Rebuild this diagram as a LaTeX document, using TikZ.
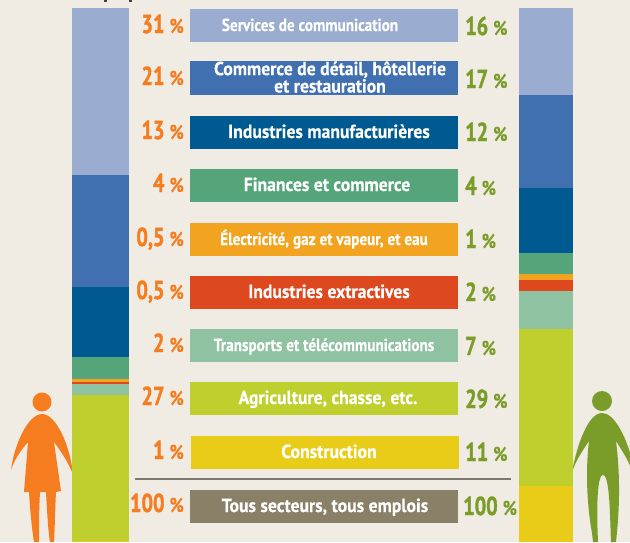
\documentclass[tikz,border=0pt]{standalone}
\usepackage{fontspec}
\setmainfont{PT Sans}
\newfontfamily\lblfont[FakeStretch=0.93,FakeBold=0.3]{PT Sans Bold}
\newfontfamily\lblsmallfont[FakeStretch=0.87,FakeBold=0.3]{PT Sans Bold}
\newfontfamily\numfont[FakeStretch=0.78,FakeBold=1.4]{PT Sans Bold}
\newfontfamily\pctfont[FakeStretch=0.85,FakeBold=0.2]{PT Sans Bold}
\definecolor{bgc}{HTML}{F0ECE3}
\definecolor{cServ}{HTML}{9AADD0}
\definecolor{cComm}{HTML}{4070B0}
\definecolor{cManu}{HTML}{005A92}
\definecolor{cFin}{HTML}{55A47A}
\definecolor{cElec}{HTML}{F2A31F}
\definecolor{cExtr}{HTML}{DD481E}
\definecolor{cTran}{HTML}{8FC2A1}
\definecolor{cAgri}{HTML}{BFD02E}
\definecolor{cCons}{HTML}{E9CC18}
\definecolor{cTous}{HTML}{8A8068}
\definecolor{cF}{HTML}{F57D20}
\definecolor{cM}{HTML}{7A9D2A}
\definecolor{cRule}{HTML}{7B7870}
\tikzset{
  lbl/.style={minimum width=268pt,minimum height=33pt,inner sep=0pt,text=white,
    align=center,text height=13pt,text depth=2pt,font=\lblfont\fontsize{19}{15.5}\selectfont},
  lblsmall/.style={lbl,font=\lblsmallfont\fontsize{17.5}{15.5}\selectfont},
  pf/.style={anchor=base east,inner sep=0pt,text=cF},
  pm/.style={anchor=base west,inner sep=0pt,text=cM}
}
\newcommand{\pcv}[1]{{\numfont\fontsize{26}{26}\selectfont #1}\hspace{5pt}{\pctfont\fontsize{20}{20}\selectfont\%}}
\newcommand{\seg}[5]{\fill[#5] (#1,#3) rectangle (#2,#4);}
\newcommand{\off}[1]{\hspace*{#1pt}}
\begin{document}
\begin{tikzpicture}[x=1pt,y=-1pt]
\useasboundingbox (0,0) rectangle (630,542);
\fill[bgc] (0,0) rectangle (630,542);
% clipped descenders at the top edge
\fill[black!75] (104,0) rectangle (106.5,2);
\fill[black!75] (129,0) rectangle (131.5,2);
% woman
\fill[cF] (42,402) circle (9.5);
\fill[cF] (42,414) .. controls (28,414) and (14,445) .. (11,470)
  .. controls (15,458) and (22,449) .. (28,442) -- (24,492) -- (29,492) .. controls (30,510) and (32,530) .. (34,542)
  -- (39,542) .. controls (39,525) and (39,510) .. (40,492) -- (46,492) .. controls (47,510) and (48,530) .. (50,542)
  -- (54,542) .. controls (55,525) and (55,510) .. (56,492) -- (61,491) -- (54,442)
  .. controls (60,450) and (67,460) .. (73,474) .. controls (70,445) and (56,414) .. (42,414) -- cycle;
% man
\fill[cM] (602,401) circle (10);
\fill[cM] (602,413) .. controls (588,413) and (577,445) .. (572,472)
  .. controls (576,460) and (583,450) .. (589,441) .. controls (586,465) and (586,500) .. (592,533) -- (593,542)
  -- (598,542) .. controls (597,520) and (596,475) .. (603,475) .. controls (610,475) and (610,520) .. (611,542)
  -- (616,542) .. controls (619,515) and (621,480) .. (616,441)
  .. controls (621,449) and (627,458) .. (631,468) -- (631,456) .. controls (625,435) and (614,413) .. (602,413) -- cycle;
% left bar
\seg{72}{129}{8}{175}{cServ}
\seg{72}{129}{175}{287}{cComm}
\seg{72}{129}{287}{357}{cManu}
\seg{72}{129}{357}{379}{cFin}
\seg{72}{129}{379}{382}{cElec}
\seg{72}{129}{382}{384}{cExtr}
\seg{72}{129}{384}{395}{cTran}
\seg{72}{129}{395}{541}{cAgri}
\seg{72}{129}{541}{542}{cCons}
% right bar
\seg{519}{573}{8}{95}{cServ}
\seg{519}{573}{95}{188}{cComm}
\seg{519}{573}{188}{253}{cManu}
\seg{519}{573}{253}{274}{cFin}
\seg{519}{573}{274}{280}{cElec}
\seg{519}{573}{280}{291}{cExtr}
\seg{519}{573}{291}{329}{cTran}
\seg{519}{573}{329}{486}{cAgri}
\seg{519}{573}{486}{542}{cCons}
% labels
\node[lblsmall,fill=cServ] (l1) at (324,25.5) {\off{-28}Services de communication};
\node[lbl,fill=cComm,text height=32pt] (l2) at (324,77.5) {\off{12}Commerce de détail, hôtellerie\\\off{12}et restauration};
\node[lbl,fill=cManu] (l3) at (324,132.5) {\off{10}Industries manufacturières};
\node[lbl,fill=cFin] (l4) at (324,185.5) {\off{6}Finances et commerce};
\node[lblsmall,fill=cElec] (l5) at (324,239.5) {Électricité, gaz et vapeur, et eau};
\node[lbl,fill=cExtr] (l6) at (324,292.5) {\off{10}Industries extractives};
\node[lblsmall,fill=cTran] (l7) at (324,345.5) {Transports et télécommunications};
\node[lbl,fill=cAgri] (l8) at (324,398.5) {\off{8}Agriculture, chasse, etc.};
\node[lbl,fill=cCons] (l9) at (325,452.5) {\off{8}Construction};
\node[lbl,fill=cTous] (l10) at (324,506.5) {\off{2}Tous secteurs, tous emplois};
\coordinate (ra) at (135,479); \coordinate (rb) at (511,479);
\draw[cRule,line width=1.4pt] (ra) -- (rb);
% left values
\node[pf] (f1) at (184,33) {\pcv{31}};
\node[pf] (f2) at (184,85) {\pcv{21}};
\node[pf] (f3) at (184,139) {\pcv{13}};
\node[pf] (f4) at (184,192) {\pcv{4}};
\node[pf] (f5) at (184,246) {\pcv{0,5}};
\node[pf] (f6) at (184,299) {\pcv{0,5}};
\node[pf] (f7) at (184,352) {\pcv{2}};
\node[pf] (f8) at (184,405) {\pcv{27}};
\node[pf] (f9) at (184,459) {\pcv{1}};
\node[pf] (f10) at (184,512) {\pcv{100}};
% right values
\node[pm] (m1) at (465,35) {\pcv{16}};
\node[pm] (m2) at (465,88) {\pcv{17}};
\node[pm] (m3) at (465,141) {\pcv{12}};
\node[pm] (m4) at (465,195) {\pcv{4}};
\node[pm] (m5) at (465,248) {\pcv{1}};
\node[pm] (m6) at (465,301) {\pcv{2}};
\node[pm] (m7) at (465,355) {\pcv{7}};
\node[pm] (m8) at (465,408) {\pcv{29}};
\node[pm] (m9) at (465,461) {\pcv{11}};
\node[pm] (m10) at (463,515) {\pcv{100}};
\end{tikzpicture}
\end{document}
